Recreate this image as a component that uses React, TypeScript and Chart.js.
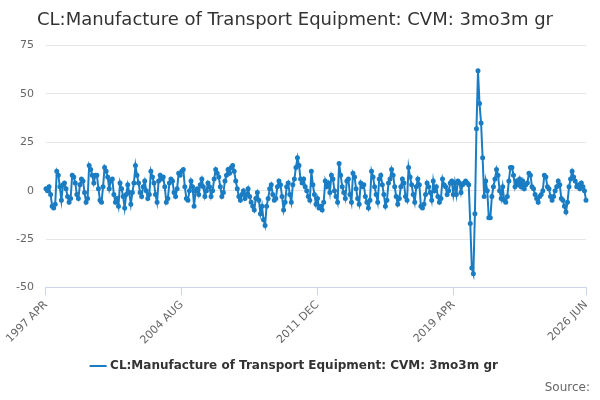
import React, { useEffect, useRef } from "react";
import { Chart, registerables } from "chart.js";
Chart.register(...registerables);

const MONTHS = ["JAN","FEB","MAR","APR","MAY","JUN","JUL","AUG","SEP","OCT","NOV","DEC"];
const y1997 = [1, 0, 2, -2, -8, -9, -7, 10, 8];
const y1998 = [2, -5, 3, 4, 1, -3, -6, -4, 8, 7, 4, -2];
const y1999 = [-4, 3, 6, 5, -1, -6, -4, 13, 11, 8, 4, 8];
const y2000 = [8, 1, -5, -6, 2, 12, 10, 7, 1, 5, 6, -2];
const y2001 = [-6, -4, -8, 4, 1, -3, -9, -2, 3, -1, -7, -1];
const y2002 = [4, 13, 8, 4, -1, -3, 2, 5, 0, -4, -2, 10];
const y2003 = [7, 4, -2, -6, 5, 8, 6, 7, 2, -6, -4, 4];
const y2004 = [6, 5, -1, -3, 1, 9, 8, 10, 11, 2, -4, -5];
const y2005 = [0, 5, 2, -8, 0, 1, -2, 3, 6, 2, -3, 0];
const y2006 = [4, 2, -3, 0, 6, 11, 9, 7, 2, -3, -1, 5];
const y2007 = [8, 11, 9, 12, 13, 10, 5, 1, -3, -5, -2, 0];
const y2008 = [-4, -2, 1, -3, -6, -8, -10, -4, -1, -5, -12, -8];
const y2009 = [-15, -18, -8, -4, 1, 3, -2, -5, -4, 2, 5, 3];
const y2010 = [-3, -10, -6, 2, 4, -2, -6, 3, 6, 12, 17, 13];
const y2011 = [6, 4, 6, 2, 0, -3, -5, 10, 3, -2, -7, -4];
const y2012 = [-9, -8, -10, -6, 5, 2, 4, -1, 8, 6, 0, -3];
const y2013 = [-6, 14, 8, 2, -1, -4, 5, 6, -2, -6, 9, 7];
const y2014 = [1, -4, -7, 4, 2, 3, -3, -6, -9, -5, 10, 7];
const y2015 = [2, -2, -6, 6, 8, 3, -2, -8, -5, 4, 6, 11];
const y2016 = [8, 2, -3, -7, -4, 2, 6, 4, -3, -5, 12, 7];
const y2017 = [3, -2, -6, 2, 6, 3, -8, -9, -7, -2, 4, 2];
const y2018 = [-1, -5, 5, 0, 2, -3, -6, -4, 6, 3, 2, -2];
const y2019 = [0, 4, 5, -2, 4, -2, 5, 4, -1, 3, 4, 5];
const y2020 = [4, 3, -17, -40, -43, -12, 32, 62, 45, 35, 17, -3];
const y2021 = [5, 0, -14, -14, -3, 2, 6, 11, 8, 0, -4, 2];
const y2022 = [-5, -6, -3, 5, 12, 12, 8, 2, 5, 3, 6, 2];
const y2023 = [5, 1, 3, 4, 9, 8, 2, 1, -2, -4, -6, -3];
const y2024 = [-2, 0, 8, 7, 2, 1, -3, -5, -3, 0, 2, 5];
const y2025 = [3, -4, -5, -8, -11, -6, 2, 6, 10, 7, 5, 2];
const y2026 = [3, 1, 4, 2, 0, -5];

const values = [
  ...y1997, ...y1998, ...y1999, ...y2000, ...y2001, ...y2002, ...y2003, ...y2004,
  ...y2005, ...y2006, ...y2007, ...y2008, ...y2009, ...y2010, ...y2011, ...y2012,
  ...y2013, ...y2014, ...y2015, ...y2016, ...y2017, ...y2018, ...y2019, ...y2020,
  ...y2021, ...y2022, ...y2023, ...y2024, ...y2025, ...y2026,
];
const labels: string[] = values.map((_, i) => {
  const m = 3 + i;
  return `${1997 + Math.floor(m / 12)} ${MONTHS[m % 12]}`;
});
const shownTicks = ["1997 APR", "2004 AUG", "2011 DEC", "2019 APR", "2026 JUN"];
const yTicks = [-50, -25, 0, 25, 50, 75];
const SERIES = "CL:Manufacture of Transport Equipment: CVM: 3mo3m gr";
const COLOR = "#1a7dc4";

export default function App() {
  const ref = useRef<HTMLCanvasElement>(null);
  useEffect(() => {
    if (!ref.current) return;
    const chart = new Chart(ref.current, {
      type: "line",
      data: {
        labels,
        datasets: [{
          label: SERIES, data: values, borderColor: COLOR, backgroundColor: COLOR,
          borderWidth: 2, pointRadius: 1.5, pointHoverRadius: 2, tension: 0,
        }],
      },
      options: {
        animation: false, responsive: false,
        layout: { padding: { left: 4, right: 14, top: 0, bottom: 18 } },
        plugins: {
          title: { display: true, text: SERIES, color: "#333", font: { family: "DejaVu Sans", size: 18, weight: "normal" }, padding: { top: 10, bottom: 14 } },
          legend: { position: "bottom", labels: { usePointStyle: true, pointStyle: "line", color: "#333", font: { family: "DejaVu Sans", size: 12, weight: "bold" } } },
          tooltip: { enabled: false },
        },
        scales: {
          x: {
            grid: { drawOnChartArea: false, drawTicks: true, tickLength: 8, color: "#ccd6eb" },
            border: { color: "#ccd6eb" },
            afterBuildTicks: (axis: any) => {
              axis.ticks = shownTicks.map((l) => ({ value: labels.indexOf(l) }));
            },
            ticks: {
              autoSkip: false, maxRotation: 45, minRotation: 45, color: "#666",
              font: { family: "DejaVu Sans", size: 11 },
              callback: (v: any) => labels[v as number],
            },
          },
          y: {
            min: -50, max: 75,
            afterBuildTicks: (axis: any) => { axis.ticks = yTicks.map((v) => ({ value: v })); },
            grid: { color: "#e6e6e6", drawTicks: false },
            border: { display: false },
            ticks: { color: "#666", padding: 12, font: { family: "DejaVu Sans", size: 11 } },
          },
        },
      },
    });
    return () => chart.destroy();
  }, []);
  return (
    <div style={{ position: "fixed", left: 0, top: 0, width: 600, height: 400, background: "#fff" }}>
      <canvas ref={ref} width={600} height={400} />
      <div style={{ position: "absolute", right: 10, bottom: 6, fontFamily: "DejaVu Sans", fontSize: 12, color: "#666" }}>Source:</div>
    </div>
  );
}
